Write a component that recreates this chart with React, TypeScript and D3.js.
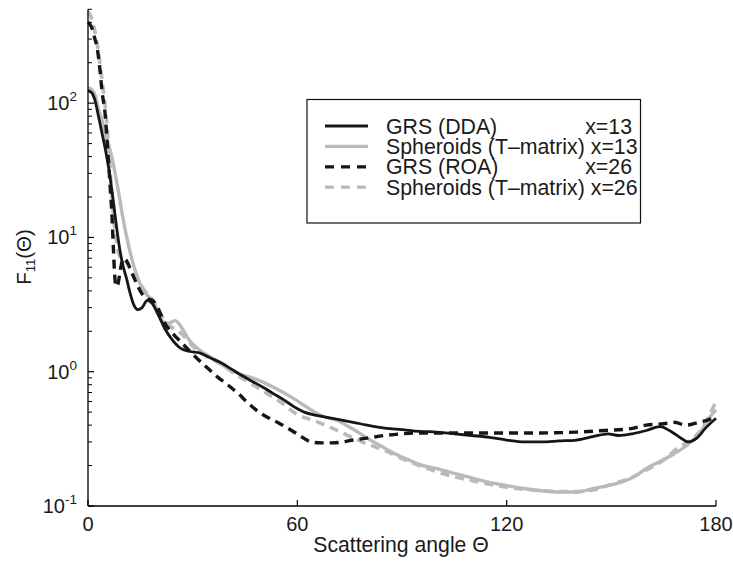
import React from "react";
import * as d3 from "d3";

const xTicks = [0, 60, 120, 180];
const yDecades = [-1, 0, 1, 2];

const ddaTheta = [0, 1, 2, 3, 4, 5, 6, 7, 8, 9, 10, 11, 12, 13, 14.3, 15.5, 17, 18.5, 20, 22, 24, 26.5, 29, 32, 35, 38, 41, 44, 47, 50, 53, 56, 59, 62, 65, 68, 72, 76, 80, 85, 90, 95, 100, 105, 110, 115, 120, 125, 130, 135, 140, 145, 149, 152, 156, 160, 164, 167, 170, 172, 174.5, 177, 180];
const ddaValues = [124, 120, 105, 80, 60, 45, 32, 21, 13, 8.5, 6.2, 5, 3.9, 3.2, 2.9, 3.0, 3.4, 3.2, 2.7, 2.1, 1.75, 1.5, 1.42, 1.38, 1.27, 1.17, 1.05, 0.94, 0.85, 0.77, 0.69, 0.62, 0.55, 0.5, 0.475, 0.46, 0.44, 0.42, 0.4, 0.38, 0.37, 0.36, 0.355, 0.345, 0.335, 0.325, 0.31, 0.3, 0.3, 0.305, 0.31, 0.33, 0.345, 0.335, 0.345, 0.365, 0.39, 0.36, 0.32, 0.3, 0.32, 0.38, 0.45];

const sph13Theta = [0, 1, 2, 3, 4, 5, 6, 7, 8, 9, 10, 11.5, 13, 14.5, 16, 17.5, 18.6, 20, 21.5, 23, 25, 27, 29, 32, 35, 38, 41, 44, 47, 50, 53, 56, 59, 62, 65, 68, 71, 74, 77, 80, 84, 88, 92, 96, 100, 105, 110, 115, 120, 125, 130, 135, 140, 145, 148, 152, 156, 160, 164, 168, 171, 174, 176, 178, 180];
const sph13Values = [130, 127, 115, 90, 75, 58, 48, 38, 28, 20, 14, 9, 6.3, 4.8, 4.0, 3.6, 3.4, 2.8, 2.35, 2.3, 2.4, 2.1, 1.72, 1.45, 1.29, 1.14, 1.03, 0.95, 0.9, 0.84, 0.77, 0.7, 0.63, 0.56, 0.5, 0.46, 0.44, 0.4, 0.36, 0.32, 0.28, 0.245, 0.22, 0.2, 0.19, 0.175, 0.162, 0.15, 0.142, 0.135, 0.13, 0.127, 0.127, 0.135, 0.14, 0.148, 0.162, 0.19, 0.215, 0.245, 0.275, 0.32, 0.37, 0.45, 0.52];

const roaTheta = [0, 1, 2, 2.6, 3.3, 4, 4.9, 5.7, 6.3, 6.9, 7.3, 7.7, 8.1, 8.6, 9.3, 10.2, 11.2, 12.5, 14, 15.5, 17, 18.5, 20, 22, 24.5, 27, 30, 34, 37, 40, 43, 46, 49, 52, 55, 58, 61, 64, 67, 70, 73, 76, 80, 85, 90, 95, 100, 110, 120, 130, 140, 148, 155, 160, 165, 168, 171.5, 175, 178, 180];
const roaValues = [400, 370, 300, 260, 190, 124, 83, 43, 25, 14, 8, 5, 4.3, 4.5, 5.8, 7, 6.6, 5.5, 4.5, 3.8, 3.5, 3.4, 3.0, 2.3, 1.9, 1.63, 1.35, 1.08, 0.92, 0.8, 0.69, 0.58, 0.5, 0.45, 0.41, 0.37, 0.33, 0.3, 0.295, 0.295, 0.3, 0.31, 0.32, 0.335, 0.345, 0.35, 0.35, 0.35, 0.35, 0.35, 0.355, 0.365, 0.375, 0.4, 0.41, 0.42, 0.4, 0.42, 0.44, 0.47];

const sph26Theta = [0, 1, 2, 3, 4, 5, 6, 7, 8, 8.6, 9.5, 10.5, 11.5, 12.5, 14.3, 16, 17.8, 19.8, 22, 24.5, 27, 30, 34, 38, 42, 46, 50, 55, 60, 65, 70, 75, 80, 85, 90, 95, 100, 105, 110, 115, 120, 125, 130, 135, 140, 145, 150, 155, 160, 165, 169, 172, 175, 178, 180];
const sph26Values = [480, 430, 340, 240, 150, 90, 45, 18, 10, 8, 7, 6.8, 6.2, 5.5, 4.8, 4.1, 3.6, 3.0, 2.4, 2.1, 1.9, 1.55, 1.3, 1.15, 0.97, 0.84, 0.72, 0.6, 0.48, 0.43, 0.38, 0.33, 0.29, 0.26, 0.225, 0.2, 0.18, 0.165, 0.155, 0.145, 0.138, 0.133, 0.13, 0.128, 0.128, 0.132, 0.145, 0.16, 0.185, 0.22, 0.27, 0.3, 0.35, 0.47, 0.6];

const legendNames = ["GRS (DDA)", "Spheroids (T\u2013matrix) x=13", "GRS (ROA)", "Spheroids (T\u2013matrix) x=26"];
const legendSizes = ["x=13", "", "x=26", ""];

const BLACK = "#161616";
const GRAY = "#bababa";

export default function App() {
  const x = d3.scaleLinear().domain([0, 180]).range([88, 716]);
  const y = d3.scaleLog().domain([0.1, 500]).range([506, 9.3]);
  const line = d3
    .line<[number, number]>()
    .x((d) => x(d[0]))
    .y((d) => y(d[1]))
    .curve(d3.curveMonotoneX);
  const zip = (a: number[], b: number[]) => a.map((t, i) => [t, b[i]] as [number, number]);

  const series = [
    { d: zip(sph13Theta, sph13Values), color: GRAY, dash: "none", w: 3.4 },
    { d: zip(sph26Theta, sph26Values), color: GRAY, dash: "9,6", w: 3.6 },
    { d: zip(ddaTheta, ddaValues), color: BLACK, dash: "none", w: 2.8 },
    { d: zip(roaTheta, roaValues), color: BLACK, dash: "9,6", w: 3.4 },
  ];
  const legendStyles = [
    { color: BLACK, dash: "none" },
    { color: GRAY, dash: "none" },
    { color: BLACK, dash: "9,7" },
    { color: GRAY, dash: "9,7" },
  ];

  const minor: number[] = [];
  for (const e of [-1, 0, 1, 2]) {
    for (let m = 2; m <= 9; m++) {
      const v = m * Math.pow(10, e);
      if (v <= 500) minor.push(v);
    }
  }

  const font = "'Liberation Sans', Arial, Helvetica, sans-serif";

  return (
    <svg width={733} height={566} style={{ position: "absolute", left: 0, top: 0, background: "#fff" }} fontFamily={font}>
      <rect width={733} height={566} fill="#fff" />
      {series.map((s, i) => (
        <path key={i} d={line(s.d) || ""} fill="none" stroke={s.color} strokeWidth={s.w} strokeDasharray={s.dash} strokeLinejoin="round" />
      ))}
      {/* axes */}
      <line x1={88} y1={y(500)} x2={88} y2={506} stroke="#000" strokeWidth={1.3} />
      <line x1={88} y1={506} x2={716} y2={506} stroke="#000" strokeWidth={1.3} />
      {xTicks.map((t) => (
        <g key={t}>
          <line x1={x(t)} x2={x(t)} y1={506} y2={500} stroke="#000" strokeWidth={1.2} />
          <text x={x(t)} y={531} fontSize={20} textAnchor="middle" fill="#1a1a1a">
            {t}
          </text>
        </g>
      ))}
      {minor.map((v) => (
        <line key={v} x1={88} x2={92} y1={y(v)} y2={y(v)} stroke="#000" strokeWidth={1} />
      ))}
      {yDecades.map((e) => (
        <g key={e}>
          <line x1={88} x2={94} y1={y(Math.pow(10, e))} y2={y(Math.pow(10, e))} stroke="#000" strokeWidth={1.2} />
          <text x={77} y={y(Math.pow(10, e)) + 7} fontSize={20} textAnchor="end" fill="#1a1a1a">
            10
            <tspan dy={-9} fontSize={13.5}>
              {e}
            </tspan>
          </text>
        </g>
      ))}
      <text x={401} y={552} fontSize={21.2} textAnchor="middle" fill="#1a1a1a">
        Scattering angle Θ
      </text>
      <text transform={`translate(31,257) rotate(-90)`} fontSize={20.5} textAnchor="middle" fill="#1a1a1a">
        F<tspan dy={4} fontSize={13}>11</tspan>
        <tspan dy={-4}>(Θ)</tspan>
      </text>
      {/* legend */}
      <rect x={307} y={99.5} width={333.5} height={123.5} fill="#fff" stroke="#111" strokeWidth={1.2} />
      {legendNames.map((n, i) => {
        const yy = 126 + i * 20.4;
        return (
          <g key={i}>
            <line x1={325} x2={368} y1={yy} y2={yy} stroke={legendStyles[i].color} strokeWidth={3.2} strokeDasharray={legendStyles[i].dash} />
            <text x={386} y={yy + 7.5} fontSize={21.3} fill="#1a1a1a">
              {n}
            </text>
            {legendSizes[i] && (
              <text x={632} y={yy + 7.5} fontSize={21.3} textAnchor="end" fill="#1a1a1a">
                {legendSizes[i]}
              </text>
            )}
          </g>
        );
      })}
    </svg>
  );
}
